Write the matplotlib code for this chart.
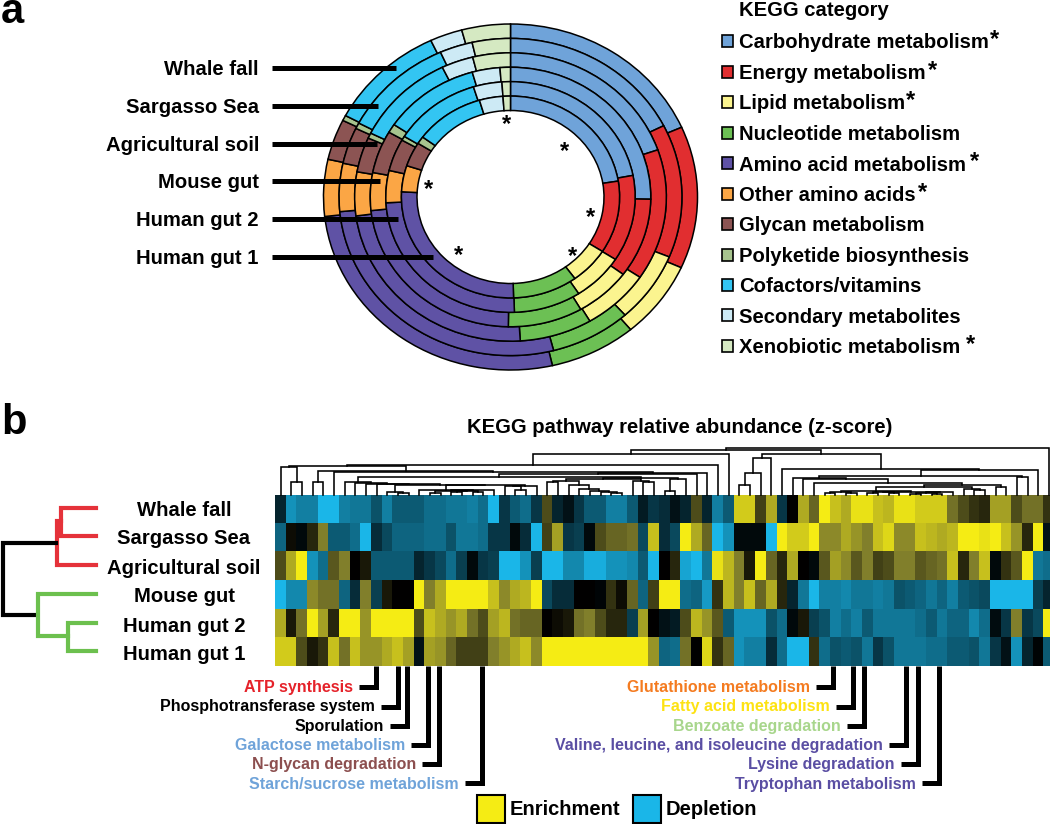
import matplotlib
matplotlib.use("Agg")
import matplotlib.pyplot as plt
from matplotlib.colors import LinearSegmentedColormap
from matplotlib.patches import Rectangle
import numpy as np

plt.rcParams['font.family'] = ['Liberation Sans', 'DejaVu Sans']
plt.rcParams['font.weight'] = 'bold'

W, H = 1050, 824

# panel a: share of each KEGG category (percent), one list per sample
categories = ["Carbohydrate metabolism", "Energy metabolism", "Lipid metabolism",
              "Nucleotide metabolism", "Amino acid metabolism", "Other amino acids",
              "Glycan metabolism", "Polyketide biosynthesis", "Cofactors/vitamins",
              "Secondary metabolites", "Xenobiotic metabolism"]
starred = [True, True, True, False, True, True, False, False, False, False, True]
cat_colors = ["#6fa3d9", "#e12e30", "#fbf48f", "#6cc054", "#5f52a5", "#fba645",
              "#8c5453", "#a7c48e", "#33c5f2", "#cdeaf5", "#d5e9c2"]

whale_fall = [18.4, 13.3, 7.2, 7.5, 26.8, 5.3, 3.8, 0.5, 10.2, 2.8, 4.2]
sargasso = [17.6, 13.6, 7.2, 7.6, 27.6, 4.9, 3.7, 0.6, 10.6, 3.1, 3.6]
agri_soil = [19.7, 14.7, 7.1, 7.5, 23.9, 4.9, 3.9, 0.6, 10.5, 3.3, 3.9]
mouse_gut = [25.3, 9.9, 6.5, 8.6, 23.1, 4.7, 5.3, 1.1, 11.2, 3.2, 1.2]
human_gut2 = [22.0, 12.1, 6.7, 8.7, 24.7, 4.5, 4.5, 0.6, 11.4, 3.7, 1.1]
human_gut1 = [22.5, 11.6, 5.9, 9.6, 26.3, 4.2, 3.9, 1.2, 10.3, 3.5, 1.1]
rings = [whale_fall, sargasso, agri_soil, mouse_gut, human_gut2, human_gut1]

samples = ["Whale fall", "Sargasso Sea", "Agricultural soil", "Mouse gut", "Human gut 2", "Human gut 1"]
leader_ends = [396, 378, 377, 380, 398, 433]

# panel b: z-score like values, scaled to -10..10, one list per sample
z_whale = [-2, -8, -7, -7, -10, -10, -7, -6.5, -6.5, -4.5, -7, -5, -5, -5, -6, -6, -6.5, -6.5, -7, -6,
           -10, -3, -5, -6, -3, 3, -2, -1, -3, -5, -5, -7, -7, -5, -1.5, -3, -2.5, -1, -2, 3,
           -2, -7, -5, 8.5, 8.5, 2.5, 7, -3, 0, 7, 4, 10, 8, 7, 9.5, 9.5, 8, 7.5, 9.5, 9.5,
           8.5, 8.5, 8.5, 4.5, 3, 2, 1.5, 6.5, 6.5, 3, 4.5, 4.5, 2]
z_sargasso = [-5.5, 0.5, -0.5, 1.5, 5, -5, -5, -6, -10, -2.5, -4, -5.5, -5.5, -5.5, -6, -6, -4.5, -6.5, -6.5, -6,
              -3, -3, -0.5, -2.5, -10, 2.5, 6.5, -3, -3.5, -0.5, 3, 4, 4, 4.5, -4, 8, -2.5, -4, 10, 7,
              4, -10, -8, -0.5, -0.5, -0.5, -10, 10, 8.5, 8.5, 10, 5.5, 5.5, 7, 6, 5, 8, 9, 5.5, 5.5,
              8, 7.5, 7, 7.5, 10, 10, 9.5, 10, 8, 6, 1.5, 10, -1]
z_agri = [3, 7, 10, -8, -6, 3.5, 5, 0, 1, -5, -5, -5, -5, -2, -3, -4, -6, -3.5, -0.5, -3,
          -3.5, -10, -10, -8, -3.5, -10, -10, -7.5, -7.5, -9.5, -9.5, -8, -8, -7.5, -5, -10, 0, 1.5, -9, -10,
          -6.5, 9.5, 7.5, 5, 1, 10, 4, 1.5, 7, 0, -0.5, 3.5, 6.5, 5.5, 3.5, 5, 2.5, 3, 5, 5,
          3.5, 4, 4.5, 8, 1.5, 5, 8, -0.5, 2, 3.5, 10, -6.5, -6]
z_mouse = [-10, -7.5, -7.5, 5.5, 4.5, 4.5, -5.5, -2.5, 5, -3.5, 1, 0, 0, 10, 5, 7, 10, 10, 10, 10,
           8, 5.5, 7, 7.5, 10, -4, -2.5, -2.5, 0, 0, -0.3, 2, 0.5, 4, -5.5, 2.5, 10, 10, -6, -5.5,
           -8.5, 2, 7.5, 5, 8, 4, 7, 1.5, -2, -6.5, -10, -7, -7, -7.5, -6.5, -6.5, -7, -6.5, -4.5, -5,
           -5.5, -6.5, -5.5, -7, -5, -4.5, -4, -10, -10, -10, -10, -3.5, -2]
z_human2 = [7, 1, 4.5, 10, 6.5, 1.5, 10, 10, 6, 10, 10, 10, 10, 3, 8, 7, 6, 7, 4.5, 3,
            6.5, 7.5, 4.5, 4, 4, 0, 0.5, 1, 4.5, 5, 3, 1.5, 1.5, -3.5, 6.5, 0, -1, -1.5, 3, 7.5,
            6, 3.5, -5, -8, -8, -8, -4.5, -6, -0.5, 1, -3.5, -4.5, -7, -6, -7, -5, -6.5, -6.5, -6.5, -6.5,
            -6, -5, -6.5, -5.5, -5.5, -7.5, -6, -0.7, -3, 5, -3, -4, 10]
z_human1 = [8.5, 8.5, 3, 1, 2, 8, 4.5, 8, 6, 6, 7, 8, 6.5, -1, 6.5, 6, 4, 2.5, 2.5, 2.5,
            5, 6, 7, 8, 5.5, 10, 10, 10, 10, 10, 10, 10, 10, 10, 10, 6, -5.5, -6, 4.5, 0,
            9, 2, 4, -8, -7, -7, -2.5, -6, -10, -10, 2, -6, -4.5, -5, -4.5, -6.5, -3, -4.5, -6.5, -6.5,
            -6.5, -6, -6, -5, -5, -4.5, -6.5, -3, -1, -8, -2, -0.2, -5]
heat_rows = [z_whale, z_sargasso, z_agri, z_mouse, z_human2, z_human1]

# pathway dendrogram: (merge height, left, right), a leaf is a column number
q_tail = (9.5, (4.7, 13, (4.3, (4, (2, 14, 15), (3.5, (3, 16, 17), (3, 18, 19))), 20)),
          (9, (8.5, 21, (4.5, 22, 23)), 24))
q_tree = (13, 6, (12, 7, (11, 8, (10.5, 9, (10, (2.2, 10, (1.5, 11, 12)), q_tail)))))
chain = (9.5, 27, (5.5, 28, (3.7, 29, (2.5, 30, (1.5, 31, 32)))))
r_tree = (17, (15.5, (14, (13, 25, 26), chain), (13.5, 33, (13, 34, 35))), (16, (3.7, 36, 37), 38))
left_tree = (28.5, (27.5, 0, (13, 1, 2)),
             (24, (13, 3, 4), (23, 5, (21.5, (20.7, (17.7, q_tree, r_tree), 39), 40))))
w9 = (3.2, (2.5, (1.5, 51, 52), (1.5, 53, 54)),
      (2.8, (2.2, (1.5, 55, 56), (1.5, 57, 58)), (2.5, (2, (1, 59, 60), (1, 61, 62)), 63)))
w7 = (9.7, (7.3, w9, (5.3, 64, (5, 65, 66))), (7.3, 67, 68))
w2 = (24.7, (19, (17, 48, (16, 49, (11.3, 50, w7))), (18, 69, 70)), 71)
right_tree = (41, (36.3, (21.3, (9.7, 43, 44), 45), 46), (26, 47, w2))
pathway_tree = (47, (44.7, (40.7, (29.7, left_tree, 41), 42), right_tree), 72)

# pathway call-outs: label, colour
call_left = ["ATP synthesis", "Phosphotransferase system", "Sporulation",
             "Galactose metabolism", "N-glycan degradation", "Starch/sucrose metabolism"]
call_left_col = ["#e5222a", "black", "black", "#6fa3d9", "#8c4f4f", "#6fa3d9"]
call_left_x = [376, 398, 407, 428, 439, 482]
call_right = ["Glutathione metabolism", "Fatty acid metabolism", "Benzoate degradation",
              "Valine, leucine, and isoleucine degradation", "Lysine degradation", "Tryptophan metabolism"]
call_right_col = ["#f47b20", "#fde212", "#a8d68c", "#5a4ea3", "#5a4ea3", "#5a4ea3"]
call_right_x = [833, 853, 864, 906, 918, 939]
call_y = [687, 707, 726, 745, 764, 783]
call_base = [691.7, 711, 730.7, 750, 769.3, 788.7]


def px_axes(fig, x0, y0, x1, y1):
    # axes rectangle given in picture pixels (y from the top)
    return fig.add_axes([x0 / W, 1 - y1 / H, (x1 - x0) / W, (y1 - y0) / H])


def draw_tree(ax, node):
    if not isinstance(node, tuple):
        return node + 0.5, 0
    h, left, right = node
    xl, hl = draw_tree(ax, left)
    xr, hr = draw_tree(ax, right)
    ax.plot([xl, xl, xr, xr], [hl, h, h, hr], color="black", lw=1.15, solid_joinstyle="miter", clip_on=False)
    return (xl + xr) / 2, h


fig = plt.figure(figsize=(W / 100, H / 100), dpi=100)

# nested rings, squeezed a bit in height like the original
ring_ax = px_axes(fig, 510.5 - 1.02 * 187, 197 - 1.02 * 173, 510.5 + 1.02 * 187, 197 + 1.02 * 173)
ring_w = 1 / 12
for i, shares in enumerate(rings):
    ring_ax.pie(shares, radius=1 - i * ring_w, colors=cat_colors, startangle=90, counterclock=False,
                wedgeprops=dict(width=ring_w, edgecolor="black", linewidth=1.1))
ring_ax.set_aspect("auto")
ring_ax.set_xlim(-1.02, 1.02)
ring_ax.set_ylim(-1.02, 1.02)

# heatmap
heat_cmap = LinearSegmentedColormap.from_list(
    "enrich", [(0, "#1ab6e8"), (0.5, "#000000"), (0.75, "#807e2c"), (1, "#f5ec14")])
heat_ax = px_axes(fig, 275.3, 494.7, 275.3 + 73 * 10.67, 666)
heat_ax.imshow(np.array(heat_rows), cmap=heat_cmap, vmin=-10, vmax=10, aspect="auto",
               interpolation="nearest", extent=(0, 73, 6, 0))
heat_ax.axis("off")

# dendrogram above the heatmap
tree_ax = px_axes(fig, 275.3, 444.7, 275.3 + 73 * 10.67, 494.7)
tree_ax.set_xlim(0, 73)
tree_ax.set_ylim(0, 50)
tree_ax.axis("off")
draw_tree(tree_ax, pathway_tree)

# everything else is placed in picture pixels
ov = fig.add_axes([0, 0, 1, 1], zorder=5)
ov.set_xlim(0, W)
ov.set_ylim(H, 0)
ov.axis("off")

ov.text(1, 23, "a", fontsize=30, va="baseline", ha="left")
ov.text(1, 434, "b", fontsize=30, va="baseline", ha="left")

# ring labels and leaders
for name, end, y in zip(samples, leader_ends, [68, 106, 144, 181, 219, 257]):
    ov.text(259, y + 7, name, fontsize=14.6, ha="right", va="baseline")
    ov.plot([272, end], [y, y], color="black", lw=3.6, solid_capstyle="butt")

# stars inside the ring
for sx, sy in [(507, 120), (565, 147), (590, 213), (572, 252), (458, 251), (428, 185)]:
    ov.text(sx, sy + 5, "*", fontsize=17, ha="center", va="center")

# category legend
ov.text(739, 16, "KEGG category", fontsize=14.6, ha="left", va="baseline")
legend_y = [41, 72, 102, 133, 163, 194, 224, 255, 285, 315, 346]
legend_base = [48.3, 79, 109.3, 140, 170.7, 201, 231.3, 261.7, 292.3, 322.7, 353.3]
star_x = {0: 995, 1: 932, 2: 911, 4: 975, 5: 922, 10: 970}
for i, (name, col, y) in enumerate(zip(categories, cat_colors, legend_y)):
    ov.add_patch(Rectangle((721.5, y - 6), 11.5, 11.5, facecolor=col, edgecolor="black", lw=1.2))
    ov.text(739, legend_base[i], name, fontsize=14.6, ha="left", va="baseline")
    if starred[i]:
        ov.text(star_x[i], y - 1, "*", fontsize=17, ha="center", va="center")

# panel b title and sample names
ov.text(680, 433, "KEGG pathway relative abundance (z-score)", fontsize=14.6, ha="center", va="baseline")
for name, y in zip(samples, [516, 544.5, 573.5, 602.5, 631.5, 660.5]):
    ov.text(184, y, name, fontsize=14.6, ha="center", va="baseline")

# sample dendrogram
red, green = "#e5323a", "#6cc04e"
ov.plot([96, 60.7, 60.7, 96], [507.5, 507.5, 536, 536], color=red, lw=3, solid_joinstyle="miter")
ov.plot([60.7, 56.7, 56.7, 96], [521, 521, 565, 565], color=red, lw=3, solid_joinstyle="miter")
ov.plot([56, 2.7, 2.7, 37], [543, 543, 615, 615], color="black", lw=3, solid_joinstyle="miter")
ov.plot([96, 37.7, 37.7, 68.3], [594, 594, 636, 636], color=green, lw=3, solid_joinstyle="miter")
ov.plot([96, 68.3, 68.3, 96], [622.5, 622.5, 651, 651], color=green, lw=3, solid_joinstyle="miter")

# call-outs under the heatmap
for names, cols, xs in [(call_left, call_left_col, call_left_x), (call_right, call_right_col, call_right_x)]:
    for name, col, x, y, b in zip(names, cols, xs, call_y, call_base):
        ov.plot([x, x, x - 17], [666, y, y], color="black", lw=3.6, solid_joinstyle="miter", solid_capstyle="butt")
        ov.text(x - 23, b, name, color=col, fontsize=11.55, ha="right", va="baseline")

# colour key
ov.add_patch(Rectangle((476.5, 794.5), 28, 28, facecolor="#f5ec14", edgecolor="black", lw=1.5))
ov.text(510, 815, "Enrichment", fontsize=14.5, ha="left", va="baseline")
ov.add_patch(Rectangle((632.5, 794.5), 28, 28, facecolor="#1ab6e8", edgecolor="black", lw=1.5))
ov.text(665.5, 815, "Depletion", fontsize=14.5, ha="left", va="baseline")

fig.savefig("out.png", dpi=100)
